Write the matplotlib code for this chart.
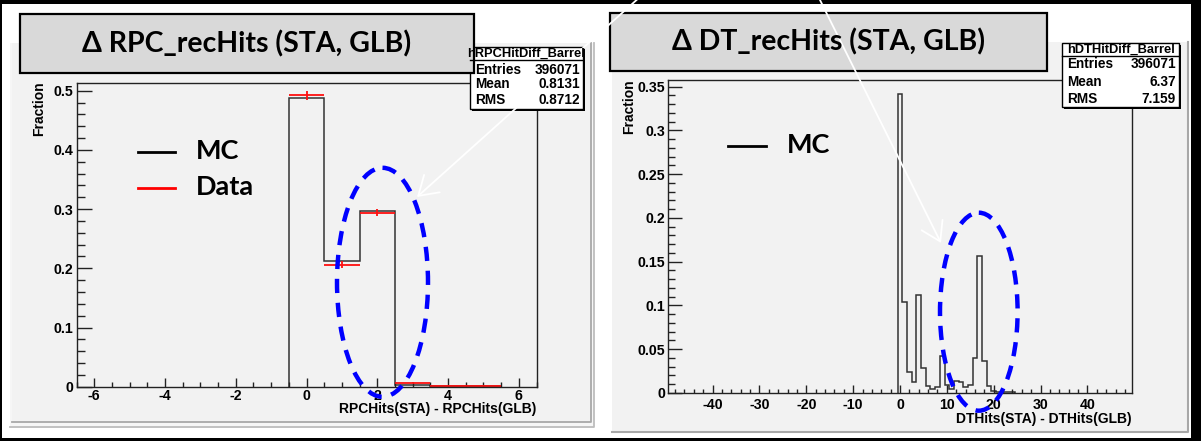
import numpy as np
import matplotlib.pyplot as plt
from matplotlib.patches import Rectangle, Ellipse, FancyArrowPatch
from matplotlib.ticker import MultipleLocator, FuncFormatter

plt.rcParams['axes.unicode_minus'] = False

W, H = 1201, 441

# RPC rechit difference STA - GLB, barrel (bins of width 1 centred on integers)
rpc_centres = [0, 1, 2, 3, 4, 5]
rpc_mc = [0.488, 0.212, 0.297, 0.003, 0.0015, 0.001]
rpc_data = [0.492, 0.206, 0.294, 0.007, 0.0015, 0.0005]
rpc_err = [0.007, 0.006, 0.006, 0.001, 0.0, 0.0]
rpc_stats = [('Entries', '396071'), ('Mean', '0.8131'), ('RMS', '0.8712')]

# DT rechit difference STA - GLB, barrel (bins 0..24, all others empty)
dt_centres = list(range(0, 25))
dt_mc = [0.342, 0.104, 0.024, 0.012, 0.112, 0.028, 0.008, 0.005, 0.007, 0.042,
         0.009, 0.004, 0.014, 0.012, 0.007, 0.009, 0.040, 0.156, 0.036, 0.008,
         0.002, 0.001, 0.001, 0.001, 0.001]
dt_stats = [('Entries', '396071'), ('Mean', '6.37'), ('RMS', '7.159')]

ROOT_FONT = ['Liberation Sans', 'DejaVu Sans']
SLIDE_FONT = ['Lato', 'DejaVu Sans']

fig = plt.figure(figsize=(W / 100, H / 100), dpi=100)
fig.patch.set_facecolor('black')


def px_axes(x0, y0, x1, y1, **kw):
    return fig.add_axes([x0 / W, 1 - y1 / H, (x1 - x0) / W, (y1 - y0) / H], **kw)


def overlay(z):
    a = px_axes(0, 0, W, H, zorder=z)
    a.set_xlim(0, W)
    a.set_ylim(H, 0)
    a.axis('off')
    return a


bg = overlay(0)
fg = overlay(10)

# white slide area and the two grey canvases
bg.add_patch(Rectangle((2, 4), 1189, 434, fc='white', ec='none'))
bg.add_patch(Rectangle((10, 43), 584, 385, fc='#f6f6f6', ec='none'))
bg.add_patch(Rectangle((12, 43), 579, 379, fc='#f2f2f2', ec='none'))
bg.plot([12, 591, 591], [422, 422, 43], color='#a8a8a8', lw=1.3)
bg.plot([10, 593.5, 593.5], [427, 427, 43], color='#bdbdbd', lw=1.3)
bg.add_patch(Rectangle((612, 42), 576, 389.5, fc='#f2f2f2', ec='none'))
bg.plot([612, 1188, 1188], [431.5, 431.5, 42], color='#a8a8a8', lw=1.5)


def style_axes(ax, xlim, ylim, xmaj, xmin, ymaj, ymin, ylen, xlen, xpad):
    ax.set_facecolor('none')
    ax.set_xlim(*xlim)
    ax.set_ylim(*ylim)
    for s in ax.spines.values():
        s.set_color('#222222')
        s.set_linewidth(1.0)
    ax.xaxis.set_major_locator(MultipleLocator(xmaj))
    ax.xaxis.set_minor_locator(MultipleLocator(xmin))
    ax.yaxis.set_major_locator(MultipleLocator(ymaj))
    ax.yaxis.set_minor_locator(MultipleLocator(ymin))
    fmt = FuncFormatter(lambda v, p: '%g' % round(v, 4))
    ax.xaxis.set_major_formatter(fmt)
    ax.yaxis.set_major_formatter(fmt)
    ax.tick_params(which='both', direction='in', top=False, right=False,
                   color='#222222', width=1.0)
    ax.tick_params(axis='y', which='major', length=ylen[0], pad=2)
    ax.tick_params(axis='y', which='minor', length=ylen[1])
    ax.tick_params(axis='x', which='major', length=xlen[0], pad=xpad)
    ax.tick_params(axis='x', which='minor', length=xlen[1])
    for lab in ax.get_xticklabels() + ax.get_yticklabels():
        lab.set_family(ROOT_FONT)
        lab.set_fontweight('bold')
        lab.set_fontsize(10.2)


# left: RPC
axL = px_axes(76.5, 83.3, 536.5, 386.7, zorder=5)
style_axes(axL, (-6.5, 6.5), (0, 0.5125), 2, 0.5, 0.1, 0.02,
           (10.5, 5.5), (6.5, 3.5), 2)
edges = [c - 0.5 for c in rpc_centres] + [rpc_centres[-1] + 0.5]
axL.stairs(rpc_mc, edges, baseline=0, color='#333333', lw=1.1)
axL.errorbar(rpc_centres, rpc_data, xerr=0.5, yerr=rpc_err, fmt='none',
             ecolor='#ff1010', elinewidth=1.3, capsize=0)
axL.set_xlabel('RPCHits(STA) - RPCHits(GLB)', loc='right', fontsize=10,
               fontweight='bold', family=ROOT_FONT)
axL.xaxis.set_label_coords(1.0, -0.052)
axL.set_ylabel('Fraction', loc='top', fontsize=10, fontweight='bold',
               family=ROOT_FONT)
axL.yaxis.set_label_coords(-0.066, 1.005)

# right: DT
axR = px_axes(668, 79.5, 1132, 393, zorder=5)
style_axes(axR, (-49.5, 49.5), (0, 0.358), 10, 2, 0.05, 0.01,
           (10, 5), (6, 3), 3.5)
edges = [c - 0.5 for c in dt_centres] + [dt_centres[-1] + 0.5]
axR.stairs(dt_mc, edges, baseline=0, color='#333333', lw=1.1)
axR.set_xlabel('DTHits(STA) - DTHits(GLB)', loc='right', fontsize=10,
               fontweight='bold', family=ROOT_FONT)
axR.xaxis.set_label_coords(1.0, -0.062)
axR.set_ylabel('Fraction', loc='top', fontsize=10, fontweight='bold',
               family=ROOT_FONT)
axR.yaxis.set_label_coords(-0.068, 1.0)


def stats_box(x0, y0, x1, y1, ydiv, name, rows, row_y):
    fg.add_patch(Rectangle((x0 + 2, y0 + 2), x1 - x0, y1 - y0, fc='black', ec='none'))
    fg.add_patch(Rectangle((x0, y0), x1 - x0, y1 - y0, fc='white', ec='black', lw=1))
    fg.plot([x0, x1], [ydiv, ydiv], color='black', lw=1)
    fg.text((x0 + x1) / 2, (y0 + ydiv) / 2 + 0.5, name, ha='center', va='center',
            fontsize=9.3, fontweight='bold', family=ROOT_FONT)
    for (lab, val), y in zip(rows, row_y):
        fg.text(x0 + 5, y, lab, ha='left', va='center', fontsize=9.8,
                fontweight='bold', family=ROOT_FONT)
        fg.text(x1 - 3, y, val, ha='right', va='center', fontsize=9.8,
                fontweight='bold', family=ROOT_FONT)


stats_box(470, 47, 583, 109, 60, 'hRPCHitDiff_Barrel', rpc_stats, [69.5, 84.5, 99.5])
stats_box(1062, 43, 1179, 107, 56, 'hDTHitDiff_Barrel', dt_stats, [64, 82, 99])


def title_box(x0, y0, x1, y1, text):
    fg.add_patch(Rectangle((x0, y0), x1 - x0, y1 - y0, fc='#d9d9d9', ec='black', lw=1.6))
    fg.text((x0 + x1) / 2, (y0 + y1) / 2, text, ha='center', va='center',
            fontsize=20.5, fontweight='bold', family=SLIDE_FONT)


title_box(20, 14, 474, 73, 'Δ RPC_recHits (STA, GLB)')
title_box(610, 12.5, 1047, 70.5, 'Δ DT_recHits (STA, GLB)')

# legends
fg.plot([138, 175], [151.7, 151.7], color='black', lw=2)
fg.text(196, 151, 'MC', ha='left', va='center', fontsize=19.5, fontweight='bold', family=SLIDE_FONT)
fg.plot([138, 175], [188.3, 188.3], color='#ff0000', lw=2)
fg.text(196, 187, 'Data', ha='left', va='center', fontsize=19.5, fontweight='bold', family=SLIDE_FONT)
fg.plot([728, 765.5], [145.7, 145.7], color='black', lw=2)
fg.text(787, 145, 'MC', ha='left', va='center', fontsize=19.5, fontweight='bold', family=SLIDE_FONT)

# highlighted regions
dash = (0, (3.2, 2.2))
fg.add_patch(Ellipse((382.5, 282.3), 91, 229, fill=False, ec='#0000ff', lw=3.2, ls=dash))
fg.add_patch(Ellipse((978.8, 311.7), 77.6, 198, fill=False, ec='#0000ff', lw=3.2, ls=dash))

# pointers coming down from above
for a, b in [((641, -4), (417, 197)), ((818, -4), (941, 243))]:
    fg.add_patch(FancyArrowPatch(a, b, arrowstyle='->,head_length=1.1,head_width=0.7',
                                 mutation_scale=12, color='white', lw=1.3,
                                 shrinkA=0, shrinkB=0))

fig.savefig('out.png', dpi=100, facecolor=fig.get_facecolor())
